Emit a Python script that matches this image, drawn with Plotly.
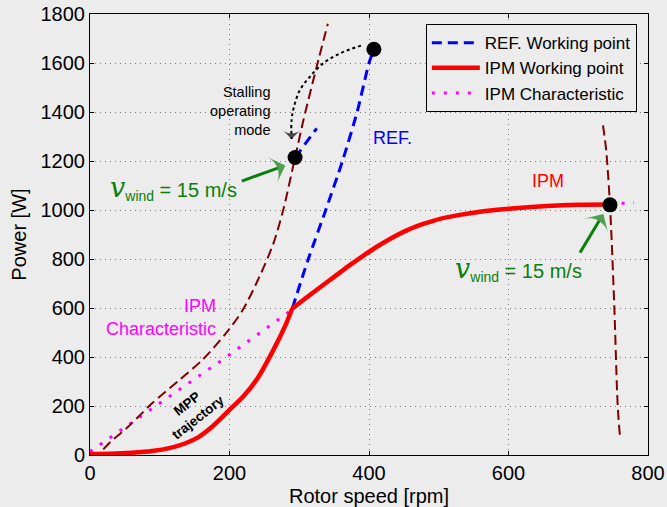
import plotly.graph_objects as go

# ---- data ----
# IPM working point (red) : low-speed MPP part and high-speed part (kink at 290 rpm)
rpm_ipm = [0, 30, 60, 89, 115, 137, 155, 175, 200, 220, 240, 263, 280, 290,
           310, 330, 350, 370, 390, 410, 430, 455, 480, 502, 530, 559, 600, 655, 700, 745]
p_ipm = [4, 5, 9, 16, 29, 48, 72, 115, 184, 240, 312, 429, 528, 598,
         642, 685, 727, 770, 810, 848, 882, 918, 945, 964, 980, 993, 1005, 1016, 1021, 1022]
KINK = 13  # index of the kink point

# REF working point (blue) above the kink
rpm_ref_hi = [290, 313, 338, 362, 383, 400, 407]
p_ref_hi = [598, 800, 1000, 1200, 1400, 1600, 1655]

rpm_ref_stall = [294, 325]
p_ref_stall = [1214, 1333]

rpm_char = [0, 196, 284]
p_char = [14, 401, 581]
rpm_char_end = [745, 760, 780]
p_char_end = [1022, 1027, 1030]

rpm_wind_l = [0, 12, 30, 55, 89, 128, 161, 195, 219, 243, 263, 277, 294, 306, 325, 341]
p_wind_l = [0, 7, 55, 116, 211, 306, 388, 497, 592, 728, 864, 1000, 1214, 1367, 1585, 1760]

rpm_wind_r = [735.5, 740, 745.5, 751.7, 756.5, 760]
p_wind_r = [1345, 1245, 1020, 605, 204, 68]

rpm_pts = [407, 294, 745.5]
p_pts = [1656, 1214, 1021]

rpm_jump = [388.5, 358.4, 334.5, 315.4, 301, 292.5, 289, 289]
p_jump = [1671, 1639, 1599, 1544, 1490, 1422, 1367, 1290]

# green arrows: [tail, tip]
arrow_l_x = [217.6, 280]
arrow_l_y = [1118, 1182]
arrow_r_x = [702.5, 736]
arrow_r_y = [826, 984]

x_ticks = [0, 200, 400, 600, 800]
y_ticks = [0, 200, 400, 600, 800, 1000, 1200, 1400, 1600, 1800]

BG = "#ececec"
FONT = "Liberation Sans, Arial, Helvetica, sans-serif"
GREEN = "#0b7f0b"
MAG = "#ff00ff"
RED = "#ff0000"
BLUE = "#0000ff"
MAROON = "#800000"

fig = go.Figure()

mag_line = dict(color=MAG, width=3, dash="3px,9px")
fig.add_trace(go.Scatter(x=rpm_char + rpm_ipm[KINK:], y=p_char + p_ipm[KINK:], mode="lines",
                         name="IPM Characteristic", line=mag_line, legendrank=3))
fig.add_trace(go.Scatter(x=rpm_char_end, y=p_char_end, mode="lines", showlegend=False, line=mag_line))

mar_line = dict(color=MAROON, width=2, dash="10px,5px", shape="spline", smoothing=0.8)
fig.add_trace(go.Scatter(x=rpm_wind_l, y=p_wind_l, mode="lines", showlegend=False, line=mar_line))
fig.add_trace(go.Scatter(x=rpm_wind_r, y=p_wind_r, mode="lines", showlegend=False, line=mar_line))

blue_line = dict(color=BLUE, width=3, dash="10px,6px", shape="spline", smoothing=0.6)
fig.add_trace(go.Scatter(x=rpm_ref_hi, y=p_ref_hi, mode="lines", name="REF. Working point",
                         line=blue_line, legendrank=1, legendgroup="ref"))
fig.add_trace(go.Scatter(x=rpm_ipm[:KINK + 1], y=p_ipm[:KINK + 1], mode="lines", showlegend=False,
                         line=dict(color=BLUE, width=3, shape="spline", smoothing=0.6), legendgroup="ref"))

red_line = dict(color=RED, width=4.5, shape="spline", smoothing=0.6)
fig.add_trace(go.Scatter(x=rpm_ipm[:KINK + 1], y=p_ipm[:KINK + 1], mode="lines",
                         name="IPM Working point", line=red_line, legendrank=2, legendgroup="ipm"))
fig.add_trace(go.Scatter(x=rpm_ipm[KINK:], y=p_ipm[KINK:], mode="lines", showlegend=False,
                         line=red_line, legendgroup="ipm"))

fig.add_trace(go.Scatter(x=rpm_ref_stall, y=p_ref_stall, mode="lines", showlegend=False,
                         line=dict(color=BLUE, width=3, dash="10px,6px")))

fig.add_trace(go.Scatter(x=rpm_jump, y=p_jump, mode="lines+markers", showlegend=False,
                         line=dict(color="black", width=2, dash="3px,3px", shape="spline"),
                         marker=dict(symbol=["circle"] * (len(rpm_jump) - 1) + ["arrow-wide"],
                                     size=[0] * (len(rpm_jump) - 1) + [13],
                                     angleref="previous", color="black", line=dict(width=0))))

for ax_, ay_ in [(arrow_l_x, arrow_l_y), (arrow_r_x, arrow_r_y)]:
    fig.add_trace(go.Scatter(x=ax_, y=ay_, mode="lines+markers", showlegend=False,
                             line=dict(color=GREEN, width=3),
                             marker=dict(symbol=["circle", "arrow-wide"], size=[0, 20],
                                         angleref="previous", color=GREEN, line=dict(width=0))))

fig.add_trace(go.Scatter(x=rpm_pts, y=p_pts, mode="markers", showlegend=False,
                         marker=dict(size=15, color="black")))

ann = []
vtxt = ("<span style='font-family:DejaVu Serif;font-size:27px'><i>v</i></span>"
        "<sub>wind</sub> = 15 m/s")
ann.append(dict(x=25.8, y=1090, xref="x", yref="y", text=vtxt, showarrow=False,
                xanchor="left", yanchor="middle", font=dict(color=GREEN, size=20, family=FONT)))
ann.append(dict(x=521, y=760, xref="x", yref="y", text=vtxt, showarrow=False,
                xanchor="left", yanchor="middle", font=dict(color=GREEN, size=20, family=FONT)))
ann.append(dict(x=261, y=1406, xref="x", yref="y", text="Stalling<br>operating<br>mode",
                showarrow=False, xanchor="right", yanchor="middle", align="right",
                font=dict(color="black", size=14.5, family=FONT)))
ann.append(dict(x=403, y=1292, xref="x", yref="y", text="REF.", showarrow=False,
                xanchor="left", yanchor="middle", font=dict(color=BLUE, size=18, family=FONT)))
ann.append(dict(x=656, y=1118, xref="x", yref="y", text="IPM", showarrow=False,
                xanchor="center", yanchor="middle", font=dict(color=RED, size=18, family=FONT)))
ann.append(dict(x=183, y=563, xref="x", yref="y", text="IPM<br>Characteristic", showarrow=False,
                xanchor="right", yanchor="middle", align="right",
                font=dict(color=MAG, size=18, family=FONT)))
ann.append(dict(x=148, y=180, xref="x", yref="y", text="<b>MPP<br>trajectory</b>", showarrow=False,
                textangle=-38, xanchor="center", yanchor="middle",
                font=dict(color="black", size=13.5, family=FONT)))

axis_common = dict(showline=True, linecolor="black", linewidth=1, mirror="ticks",
                   ticks="inside", ticklen=4, tickcolor="black", automargin=False,
                   showgrid=True, gridcolor="#7a7a7a", gridwidth=1, griddash="1px,4px",
                   zeroline=False, tickfont=dict(size=20, color="black", family=FONT))

fig.update_layout(
    width=667, height=507,
    margin=dict(l=90, r=19, t=14, b=52),
    paper_bgcolor=BG, plot_bgcolor=BG,
    font=dict(family=FONT, color="black"),
    xaxis=dict(range=[0, 800], tickvals=x_ticks,
               title=dict(text="Rotor speed [rpm]", font=dict(size=20, color="black", family=FONT)),
               **axis_common),
    yaxis=dict(range=[0, 1800], tickvals=y_ticks,
               title=dict(text="Power [W]", standoff=8,
                          font=dict(size=20, color="black", family=FONT)),
               **axis_common),
    legend=dict(x=0.98, y=0.977, xanchor="right", yanchor="top",
                bgcolor=BG, bordercolor="black", borderwidth=1,
                font=dict(size=17, color="black", family=FONT),
                itemwidth=48, tracegroupgap=0, traceorder="normal"),
    annotations=ann,
    showlegend=True,
)

fig.write_html("out.html")
